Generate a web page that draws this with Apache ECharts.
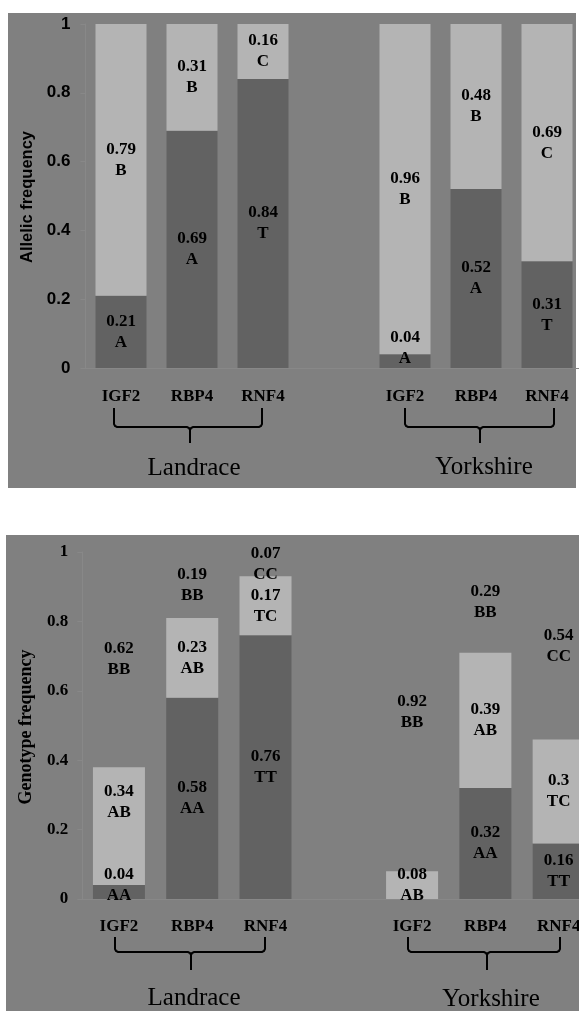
<!DOCTYPE html>
<html>
<head>
<meta charset="utf-8">
<script src="https://cdn.jsdelivr.net/npm/echarts@6/dist/echarts.min.js"></script>
<style>
  html, body { margin: 0; padding: 0; background: #ffffff; overflow: hidden; }
  /* canvas is a little wider than the window so the last bar can run off the edge */
  #chart { width: 600px; height: 1011px; }
</style>
</head>
<body>
<div id="chart"></div>
<script>
// Gene markers per breed; the blank slot separates Landrace from Yorkshire.
const categories = ['IGF2', 'RBP4', 'RNF4', '', 'IGF2', 'RBP4', 'RNF4'];
const breeds = ['Landrace', 'Yorkshire'];

// Allele frequencies (first allele drawn dark, second light)
const allele1Values = [0.21, 0.69, 0.84, null, 0.04, 0.52, 0.31];
const allele1Names  = ['A', 'A', 'T', '', 'A', 'A', 'T'];
const allele2Values = [0.79, 0.31, 0.16, null, 0.96, 0.48, 0.69];
const allele2Names  = ['B', 'B', 'C', '', 'B', 'B', 'C'];

// Genotype frequencies (homozygous 1 dark, heterozygous light, homozygous 2 unfilled)
const homo1Values = [0.04, 0.58, 0.76, null, 0, 0.32, 0.16];
const homo1Names  = ['AA', 'AA', 'TT', '', 'AA', 'AA', 'TT'];
const heteroValues = [0.34, 0.23, 0.17, null, 0.08, 0.39, 0.30];
const heteroNames  = ['AB', 'AB', 'TC', '', 'AB', 'AB', 'TC'];
const homo2Values = [0.62, 0.19, 0.07, null, 0.92, 0.29, 0.54];
const homo2Names  = ['BB', 'BB', 'CC', '', 'BB', 'BB', 'CC'];

const yTicks = { min: 0, max: 1, interval: 0.2 };

// ---- styling ----
const BG = '#808080';
const DARK = '#626262';
const LIGHT = '#b4b4b4';
const SERIF = '"Liberation Serif", "Times New Roman", serif';
const SANS = '"Liberation Sans", Arial, sans-serif';

// vertical nudges for labels that sit on thin segments
const labelNudge = {
  allele1: { 4: -13 },
  homo1: { 0: -7 },
  hetero: { 0: -24 }
};

function buildData(values, nudge) {
  return values.map(function (v, i) {
    if (v === null) return '-';
    const item = { value: v };
    if (nudge && nudge[i] !== undefined) item.label = { offset: [0, nudge[i]] };
    return item;
  });
}

function barLabel(names) {
  return {
    show: true,
    position: 'inside',
    color: '#000',
    fontFamily: SERIF,
    fontWeight: 'bold',
    fontSize: 17,
    lineHeight: 21,
    formatter: function (p) {
      if (p.value === 0 || p.value === '-' || p.value == null) return '';
      return p.value + '\n' + names[p.dataIndex];
    }
  };
}

function barSeries(name, axisIdx, stack, values, names, color, width, nudge) {
  return {
    name: name,
    type: 'bar',
    xAxisIndex: axisIdx,
    yAxisIndex: axisIdx,
    stack: stack,
    barWidth: width,
    data: buildData(values, nudge),
    itemStyle: { color: color },
    label: barLabel(names),
    emphasis: { disabled: true },
    silent: true
  };
}

function xAxisFor(gridIdx, margin) {
  return {
    type: 'category',
    gridIndex: gridIdx,
    data: categories,
    axisTick: { show: false },
    axisLine: { show: true, lineStyle: { color: '#888888', width: 1 } },
    axisLabel: {
      color: '#000', fontFamily: SERIF, fontWeight: 'bold', fontSize: 17,
      margin: margin, interval: 0
    }
  };
}

function yAxisFor(gridIdx, font, margin) {
  return {
    type: 'value',
    gridIndex: gridIdx,
    min: yTicks.min, max: yTicks.max, interval: yTicks.interval,
    splitLine: { show: false },
    axisLine: { show: true, lineStyle: { color: '#888888', width: 1 } },
    axisTick: { show: true, length: 5, lineStyle: { color: '#888888' } },
    axisLabel: {
      color: '#000', fontFamily: font, fontWeight: 'bold', fontSize: 17,
      margin: margin
    }
  };
}

// curly bracket under a breed's three markers, drawn as two polylines
function brace(x1, x2, xc, y0, y1, y2) {
  const st = { stroke: '#000', lineWidth: 2, fill: null };
  return [
    {
      type: 'polyline', z: 10, style: st,
      shape: { points: [[x1, y0], [x1, y1 - 3], [x1 + 1, y1 - 1], [x1 + 3, y1],
                        [xc - 3, y1], [xc - 1, y1 + 1], [xc, y1 + 3], [xc, y2]] }
    },
    {
      type: 'polyline', z: 10, style: st,
      shape: { points: [[xc, y1 + 3], [xc + 1, y1 + 1], [xc + 3, y1],
                        [x2 - 3, y1], [x2 - 1, y1 - 1], [x2, y1 - 3], [x2, y0]] }
    }
  ];
}

function groupText(txt, x, y) {
  return {
    type: 'text', x: x, y: y, z: 10,
    style: {
      text: txt, fill: '#000', font: 'normal 25px ' + SERIF,
      align: 'center', verticalAlign: 'middle'
    }
  };
}

function axisTitle(txt, x, y, font, size) {
  return {
    type: 'text', x: x, y: y, rotation: Math.PI / 2, z: 10,
    style: {
      text: txt, fill: '#000', font: 'bold ' + size + 'px ' + font,
      align: 'center', verticalAlign: 'middle'
    }
  };
}

const chart = echarts.init(document.getElementById('chart'), null, { renderer: 'canvas' });

const decorations = [
  { type: 'rect', shape: { x: 8, y: 13, width: 568, height: 475 }, style: { fill: BG }, z: -10 },
  { type: 'rect', shape: { x: 6, y: 535, width: 594, height: 476 }, style: { fill: BG }, z: -10 },
  axisTitle('Allelic frequency', 27, 197, SANS, 16.5),
  axisTitle('Genotype frequency', 26, 727, SERIF, 18)
].concat(
  brace(114, 262, 190, 408, 427, 443),
  brace(405, 554, 480, 408, 427, 443),
  brace(115, 265, 191, 937, 952, 970),
  brace(408, 560, 487, 937, 952, 970),
  [
    groupText(breeds[0], 194, 468),
    groupText(breeds[1], 484, 467),
    groupText(breeds[0], 194, 998),
    groupText(breeds[1], 491, 999)
  ]
);

chart.setOption({
  animation: false,
  backgroundColor: '#ffffff',
  grid: [
    { left: 85.5, top: 24, width: 497, height: 344 },
    { left: 82.3, top: 552, width: 513, height: 347 }
  ],
  xAxis: [xAxisFor(0, 20), xAxisFor(1, 19)],
  yAxis: [yAxisFor(0, SANS, 15), yAxisFor(1, SERIF, 14)],
  graphic: decorations,
  series: [
    barSeries('allele1', 0, 'allele', allele1Values, allele1Names, DARK, 51, labelNudge.allele1),
    barSeries('allele2', 0, 'allele', allele2Values, allele2Names, LIGHT, 51, null),
    barSeries('homo1', 1, 'geno', homo1Values, homo1Names, DARK, 52, labelNudge.homo1),
    barSeries('hetero', 1, 'geno', heteroValues, heteroNames, LIGHT, 52, labelNudge.hetero),
    barSeries('homo2', 1, 'geno', homo2Values, homo2Names, 'rgba(0,0,0,0)', 52, null)
  ]
});
</script>
</body>
</html>
